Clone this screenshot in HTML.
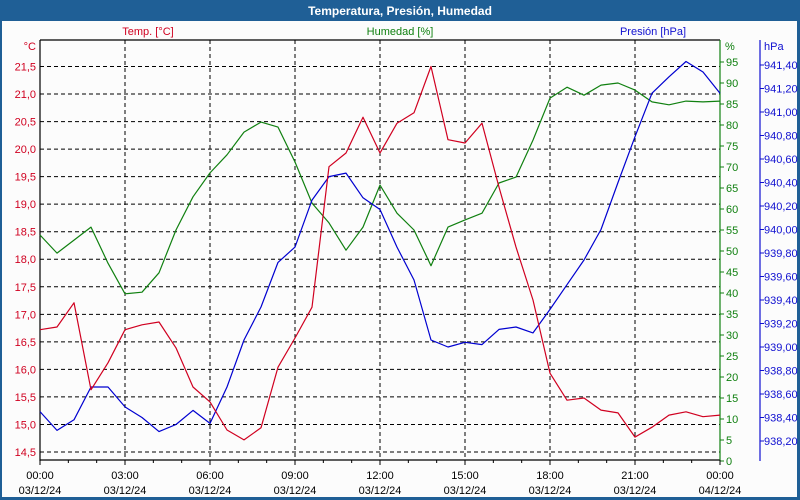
<!DOCTYPE html>
<html><head><meta charset="utf-8"><style>
body{margin:0;width:800px;height:500px;overflow:hidden;background:#1f5f96;font-family:"Liberation Sans",sans-serif}
</style></head><body>
<svg width="800" height="500" style="position:absolute;left:0;top:0">
<rect x="0" y="0" width="800" height="500" fill="#1f5f96"/>
<text x="400" y="15" text-anchor="middle" fill="#fff" font-weight="bold" font-size="12">Temperatura, Presión, Humedad</text>
<rect x="2" y="21" width="795" height="476" fill="#fcfcfc"/>
<g id="grid"></g><g id="axes"></g><g id="series"></g>
<text x="148" y="35" text-anchor="middle" fill="#d00020" font-size="11">Temp. [°C]</text>
<text x="400" y="35" text-anchor="middle" fill="#108010" font-size="11">Humedad [%]</text>
<text x="653" y="35" text-anchor="middle" fill="#1010d0" font-size="11">Presión [hPa]</text>
</svg>
<script>
const hours=[0,0.6,1.2,1.8,2.4,3,3.6,4.2,4.8,5.4,6,6.6,7.2,7.8,8.4,9,9.6,10.2,10.8,11.4,12,12.6,13.2,13.8,14.4,15,15.6,16.2,16.8,17.4,18,18.6,19.2,19.8,20.4,21,21.6,22.2,22.8,23.4,24];
const temp=[16.72,16.77,17.21,15.63,16.12,16.72,16.81,16.86,16.39,15.68,15.41,14.90,14.72,14.94,16.04,16.57,17.13,19.68,19.93,20.58,19.93,20.47,20.66,21.5,20.17,20.11,20.47,19.31,18.22,17.26,15.93,15.44,15.48,15.26,15.21,14.77,14.95,15.17,15.23,15.14,15.17];
const hum=[53.8,49.5,52.6,55.7,47.1,39.8,40.2,44.8,55.0,62.9,68.6,72.9,78.3,80.7,79.5,71.2,61.4,56.7,50.2,55.7,65.7,59.0,55.0,46.5,55.7,57.4,59.0,66.2,67.6,76.4,86.4,89.0,87.1,89.5,90.0,88.3,85.5,84.8,85.7,85.5,85.7];
const pres=[938.45,938.29,938.38,938.66,938.66,938.49,938.40,938.28,938.34,938.46,938.35,938.66,939.06,939.34,939.72,939.85,940.25,940.45,940.48,940.27,940.17,939.85,939.57,939.06,939.00,939.04,939.02,939.15,939.17,939.12,939.32,939.53,939.74,940.00,940.40,940.79,941.16,941.30,941.43,941.34,941.16];
const tempTicks=["14,5","15,0","15,5","16,0","16,5","17,0","17,5","18,0","18,5","19,0","19,5","20,0","20,5","21,0","21,5"];
const humTicks=[0,5,10,15,20,25,30,35,40,45,50,55,60,65,70,75,80,85,90,95];
const presTicks=["938,20","938,40","938,60","938,80","939,00","939,20","939,40","939,60","939,80","940,00","940,20","940,40","940,60","940,80","941,00","941,20","941,40"];
const timeTicks=["00:00","03:00","06:00","09:00","12:00","15:00","18:00","21:00","00:00"];
const dateTicks=["03/12/24","03/12/24","03/12/24","03/12/24","03/12/24","03/12/24","03/12/24","03/12/24","04/12/24"];
const X0=40,X1=720,Y0=40,Y1=460;
const xs=h=>X0+h*(X1-X0)/24;
const yT=t=>66.5+(21.5-t)*55.07;
const yH=h=>461-h*4.2;
const yP=p=>65+(941.4-p)*117.5;
const NS="http://www.w3.org/2000/svg";
function mk(parent,tag,attrs,txt){const e=document.createElementNS(NS,tag);for(const k in attrs)e.setAttribute(k,attrs[k]);if(txt!==undefined)e.textContent=txt;document.getElementById(parent).appendChild(e);return e;}
tempTicks.forEach((t,i)=>{const y=yT(parseFloat(t.replace(',','.')));
 const g=mk('grid','line',{x1:X0,x2:X1,y1:y,y2:y,stroke:'#000','stroke-dasharray':'4,3','stroke-width':1});
 
 
 const l=mk('axes','text',{x:36,y:y+4,'text-anchor':'end',fill:'#d00020','font-size':11},t);
 
 
});
for(let i=1;i<8;i++){const x=xs(i*3);
 const g=mk('grid','line',{x1:x,x2:x,y1:Y0,y2:Y1,stroke:'#000','stroke-dasharray':'4,3','stroke-width':1});
 
 
}
[[X0,Y0,X0,Y1+1,'#000','left-axis'],[X0,Y0,X1,Y0,'#000','top-border'],[X0,Y1,X1,Y1,'#000','x-axis'],[X1,Y0,X1,Y1+1,'#108010','humidity-axis'],[760,Y0,760,Y1+1,'#1010d0','pressure-axis']].forEach(a=>{
 const l=mk('axes','line',{x1:a[0],y1:a[1],x2:a[2],y2:a[3],stroke:a[4],'stroke-width':1.2});
 
 
});
const cu=mk('axes','text',{x:36,y:50,'text-anchor':'end',fill:'#d00020','font-size':11},'°C');


const hu=mk('axes','text',{x:725,y:50,fill:'#108010','font-size':11},'%');


const pu=mk('axes','text',{x:764,y:50,fill:'#1010d0','font-size':11},'hPa');


humTicks.forEach(h=>{const y=yH(h);
 mk('axes','line',{x1:X1,x2:X1+4,y1:y,y2:y,stroke:'#108010'});
 const l=mk('axes','text',{x:726,y:y+4,fill:'#108010','font-size':11},String(h));
 
 
});
presTicks.forEach(p=>{const y=yP(parseFloat(p.replace(',','.')));
 mk('axes','line',{x1:760,x2:764,y1:y,y2:y,stroke:'#1010d0'});
 const l=mk('axes','text',{x:764,y:y+4,fill:'#1010d0','font-size':11},p);
 
 
});
for(let h=0;h<=24;h++){const x=xs(h);mk('axes','line',{x1:x,x2:x,y1:Y1,y2:Y1+(h%3?3:5),stroke:'#000'});}
timeTicks.forEach((t,i)=>{const x=xs(i*3);
 const a=mk('axes','text',{x:x,y:479,'text-anchor':'middle',fill:'#000','font-size':11},t);
 
 
 const b=mk('axes','text',{x:x,y:494,'text-anchor':'middle',fill:'#000','font-size':11},dateTicks[i]);
 
 
});
function line(vals,fy,col,name){const d=vals.map((v,i)=>(i?'L':'M')+xs(hours[i]).toFixed(1)+','+fy(v).toFixed(1)).join('');
 const p=mk('series','path',{d:d,fill:'none',stroke:col,'stroke-width':1.2,'stroke-linejoin':'round'});
 
 
}
line(hum,yH,'#108010','humidity-line');
line(pres,yP,'#0000d0','pressure-line');
line(temp,yT,'#d00020','temperature-line');
</script>
</body></html>
